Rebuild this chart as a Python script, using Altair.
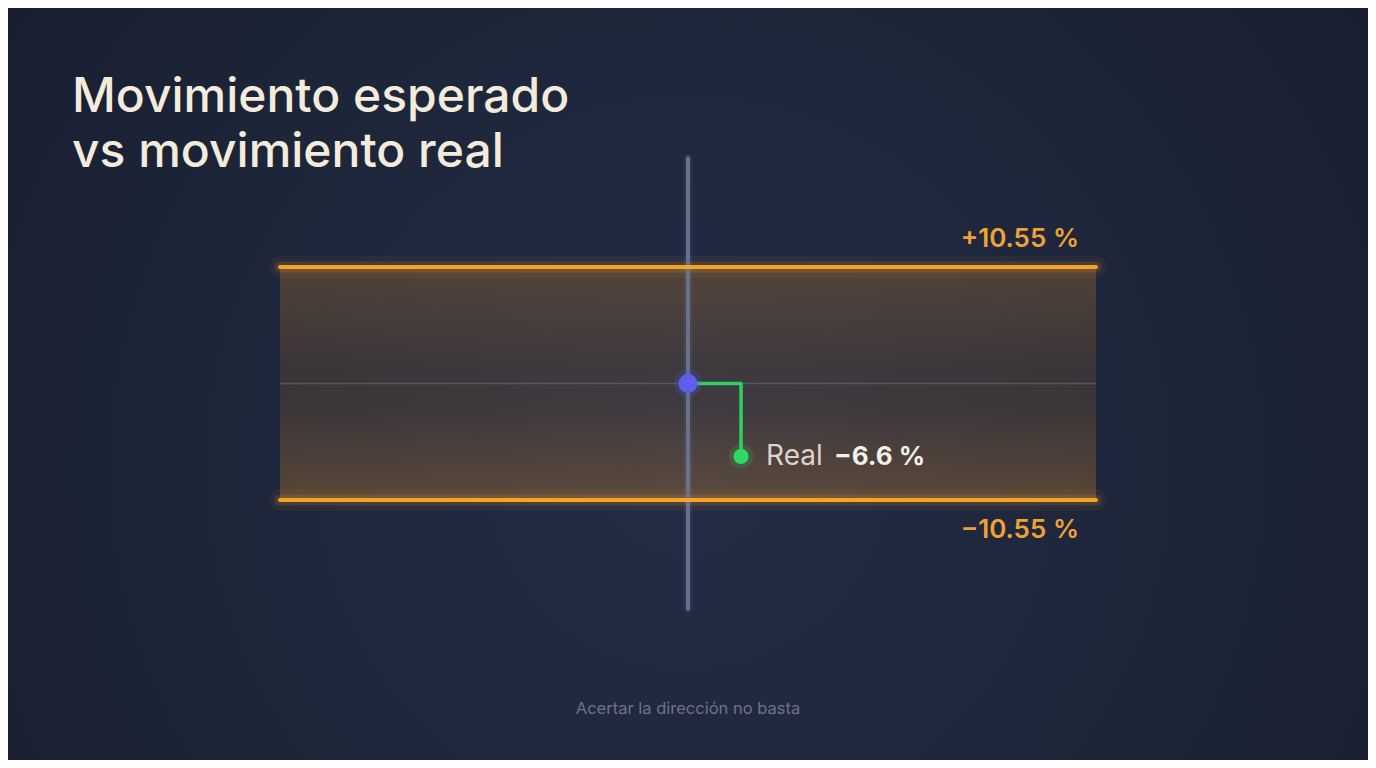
import altair as alt
import pandas as pd

# ---- data ----
band_low = -10.55
band_high = 10.55
band_labels = ["\u221210.55 %", "+10.55 %"]
real_move = -6.6
real_label = "\u22126.6 %"
expected_center = 0.0
band_x = [-3.0, 3.0]          # horizontal extent of the expected range band
axis_extent = [-20.4, 20.4]   # vertical reference axis extent
real_x = 0.39                 # horizontal offset of the real-move marker
title_lines = ["Movimiento esperado", "vs movimiento real"]
footer_text = "Acertar la direcci\u00f3n no basta"

W, H = 1360, 752
xs = alt.Scale(domain=[-5.0, 5.0], nice=False, zero=False)
ys = alt.Scale(domain=[-34.09, 34.0], nice=False, zero=False)
X = lambda f: alt.X(f, type="quantitative", scale=xs, axis=None)
Y = lambda f: alt.Y(f, type="quantitative", scale=ys, axis=None)

bg_df = pd.DataFrame({"a": [0]})
band_df = pd.DataFrame({"x": [band_x[0]], "x2": [band_x[1]], "y": [band_low], "y2": [band_high]})
lines_df = pd.DataFrame({"x": [band_x[0]] * 2, "x2": [band_x[1]] * 2, "y": [band_low, band_high],
                         "label": band_labels})
center_df = pd.DataFrame({"x": [band_x[0]], "x2": [band_x[1]], "y": [expected_center]})
axis_df = pd.DataFrame({"x": [expected_center], "y": [axis_extent[0]], "y2": [axis_extent[1]]})
path_df = pd.DataFrame({"x": [expected_center, real_x, real_x],
                        "y": [expected_center, expected_center, real_move],
                        "o": [0, 1, 2]})
blue_df = pd.DataFrame({"x": [expected_center], "y": [expected_center]})
real_df = pd.DataFrame({"x": [real_x], "y": [real_move], "label": [real_label]})
title_df = pd.DataFrame({"t": ["\n".join(title_lines)]})
footer_df = pd.DataFrame({"t": [footer_text]})

background = alt.Chart(bg_df).mark_rect(
    fill=alt.Gradient(gradient="radial", x1=0.5, y1=0.56, r1=0, x2=0.5, y2=0.56, r2=0.75,
                      stops=[alt.GradientStop(color="#242d45", offset=0),
                             alt.GradientStop(color="#1d2539", offset=0.5),
                             alt.GradientStop(color="#151b2e", offset=1)])
).encode(x=alt.value(0), x2=alt.value(W), y=alt.value(0), y2=alt.value(H))

band = alt.Chart(band_df).mark_rect(
    fill=alt.Gradient(gradient="linear", x1=0, y1=0, x2=0, y2=1,
                      stops=[alt.GradientStop(color="rgba(240,150,40,0.24)", offset=0),
                             alt.GradientStop(color="rgba(240,150,40,0.13)", offset=0.45),
                             alt.GradientStop(color="rgba(240,150,40,0.14)", offset=0.62),
                             alt.GradientStop(color="rgba(240,150,40,0.28)", offset=1)])
).encode(x=X("x"), x2="x2", y=Y("y"), y2="y2")

glow_wide = alt.Chart(lines_df).mark_rule(color="#f5a023", strokeWidth=22, opacity=0.06, strokeCap="round").encode(
    x=X("x"), x2="x2", y=Y("y"))
glow_mid = alt.Chart(lines_df).mark_rule(color="#f5a023", strokeWidth=11, opacity=0.15, strokeCap="round").encode(
    x=X("x"), x2="x2", y=Y("y"))
band_lines = alt.Chart(lines_df).mark_rule(color="#f7a328", strokeWidth=4, strokeCap="round").encode(
    x=X("x"), x2="x2", y=Y("y"))

center_line = alt.Chart(center_df).mark_rule(color="#6a6a74", strokeWidth=1.3, opacity=0.6).encode(
    x=X("x"), x2="x2", y=Y("y"))

axis_glow = alt.Chart(axis_df).mark_rule(color="#8090b8", strokeWidth=9, opacity=0.10, strokeCap="round").encode(
    x=X("x"), y=Y("y"), y2="y2")
axis_line = alt.Chart(axis_df).mark_rule(color="#6b7696", strokeWidth=4, strokeCap="round", opacity=0.9).encode(
    x=X("x"), y=Y("y"), y2="y2")

path = alt.Chart(path_df).mark_line(color="#2fd061", strokeWidth=3.5, strokeJoin="round").encode(
    x=X("x"), y=Y("y"), order="o:Q")

blue_glow = alt.Chart(blue_df).mark_circle(color="#5b5ff0", size=800, opacity=0.18).encode(x=X("x"), y=Y("y"))
blue_pt = alt.Chart(blue_df).mark_circle(color="#5d60ee", size=360, opacity=1).encode(x=X("x"), y=Y("y"))

real_glow = alt.Chart(real_df).mark_circle(color="#2bd964", size=600, opacity=0.16).encode(x=X("x"), y=Y("y"))
real_pt = alt.Chart(real_df).mark_circle(color="#2ddb63", size=230, opacity=1).encode(x=X("x"), y=Y("y"))

real_word = alt.Chart(real_df).mark_text(text="Real", align="left", baseline="middle", dx=25, dy=1,
                                         font="Inter", fontSize=28, fontWeight=400, color="#d9d4cc").encode(
    x=X("x"), y=Y("y"))
real_val = alt.Chart(real_df).mark_text(align="left", baseline="middle", dx=93, dy=1,
                                        font="Inter", fontSize=26, fontWeight=700, color="#f4f1ea").encode(
    x=X("x"), y=Y("y"), text="label:N")

top_lbl = alt.Chart(lines_df[lines_df.y > 0]).mark_text(
    align="right", baseline="alphabetic", dx=-17, dy=-20, font="Inter", fontSize=26, fontWeight=600,
    color="#f2a233").encode(x=X("x2"), y=Y("y"), text="label:N")
bot_lbl = alt.Chart(lines_df[lines_df.y < 0]).mark_text(
    align="right", baseline="alphabetic", dx=-17, dy=38, font="Inter", fontSize=26, fontWeight=600,
    color="#f2a233").encode(x=X("x2"), y=Y("y"), text="label:N")

title = alt.Chart(title_df).mark_text(
    align="left", baseline="alphabetic", lineBreak="\n", lineHeight=55, font="Inter", fontSize=48,
    fontWeight=500, color="#f3ebdb").encode(x=alt.value(64), y=alt.value(104), text="t:N")

footer = alt.Chart(footer_df).mark_text(
    align="center", baseline="alphabetic", font="Inter", fontSize=16.5, color="#6d7388").encode(
    x=alt.value(W / 2), y=alt.value(706), text="t:N")

chart = alt.layer(
    background, band, glow_wide, glow_mid, center_line, axis_glow, axis_line, band_lines,
    path, blue_glow, blue_pt, real_glow, real_pt, real_word, real_val, top_lbl, bot_lbl, title, footer
).properties(
    width=W, height=H, padding=0, background="#171e31",
    autosize=alt.AutoSizeParams(type="none")
).configure_view(stroke=None, clip=False)

chart.save("out.html", embed_options={"renderer": "svg", "actions": False})
